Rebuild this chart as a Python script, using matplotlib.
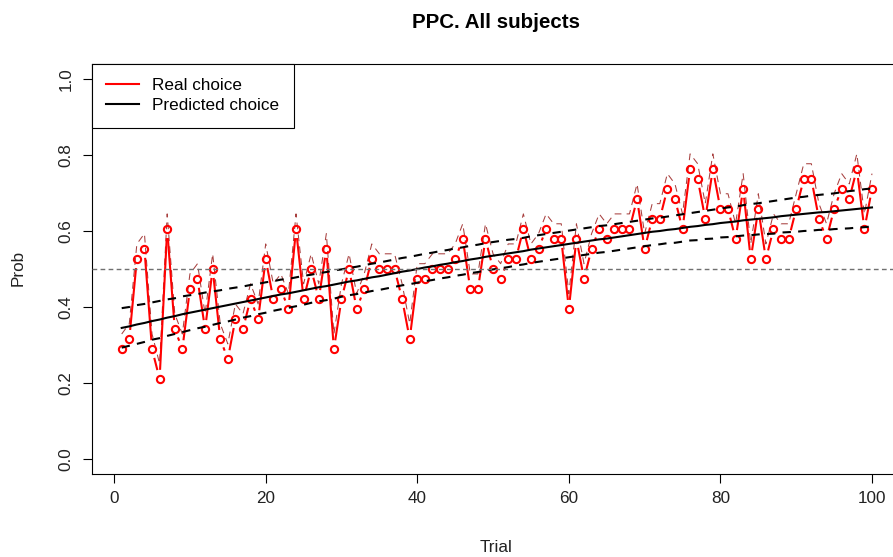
import numpy as np
import matplotlib
matplotlib.use("Agg")
import matplotlib.pyplot as plt
from matplotlib.collections import LineCollection
from matplotlib.lines import Line2D

plt.rcParams['font.family'] = ['Liberation Sans', 'DejaVu Sans']

# ---------------- data ----------------
trials = list(range(1, 101))

real_choice = [
    0.289, 0.316, 0.526, 0.553, 0.289, 0.211, 0.605, 0.342, 0.289, 0.447,
    0.474, 0.342, 0.500, 0.316, 0.263, 0.368, 0.342, 0.421, 0.368, 0.526,
    0.421, 0.447, 0.395, 0.605, 0.421, 0.500, 0.421, 0.553, 0.289, 0.421,
    0.500, 0.395, 0.447, 0.526, 0.500, 0.500, 0.500, 0.421, 0.316, 0.474,
    0.474, 0.500, 0.500, 0.500, 0.526, 0.579, 0.447, 0.447, 0.579, 0.500,
    0.474, 0.526, 0.526, 0.605, 0.526, 0.553, 0.605, 0.579, 0.579, 0.395,
    0.579, 0.474, 0.553, 0.605, 0.579, 0.605, 0.605, 0.605, 0.684, 0.553,
    0.632, 0.632, 0.711, 0.684, 0.605, 0.763, 0.737, 0.632, 0.763, 0.658,
    0.658, 0.579, 0.711, 0.526, 0.658, 0.526, 0.605, 0.579, 0.579, 0.658,
    0.737, 0.737, 0.632, 0.579, 0.658, 0.711, 0.684, 0.763, 0.605, 0.711,
]

real_upper = [
    0.329, 0.356, 0.566, 0.593, 0.329, 0.251, 0.645, 0.382, 0.329, 0.487,
    0.514, 0.382, 0.540, 0.356, 0.303, 0.408, 0.382, 0.461, 0.408, 0.566,
    0.461, 0.487, 0.435, 0.645, 0.461, 0.540, 0.461, 0.593, 0.329, 0.461,
    0.540, 0.435, 0.487, 0.566, 0.540, 0.540, 0.540, 0.461, 0.356, 0.514,
    0.514, 0.540, 0.540, 0.540, 0.566, 0.619, 0.487, 0.487, 0.619, 0.540,
    0.514, 0.566, 0.566, 0.645, 0.566, 0.593, 0.645, 0.619, 0.619, 0.435,
    0.619, 0.514, 0.593, 0.645, 0.619, 0.645, 0.645, 0.645, 0.724, 0.593,
    0.672, 0.672, 0.751, 0.724, 0.645, 0.803, 0.777, 0.672, 0.803, 0.698,
    0.698, 0.619, 0.751, 0.566, 0.698, 0.566, 0.645, 0.619, 0.619, 0.698,
    0.777, 0.777, 0.672, 0.619, 0.698, 0.751, 0.724, 0.803, 0.645, 0.751,
]

predicted = [
    0.345, 0.349, 0.354, 0.358, 0.363, 0.367, 0.372, 0.376, 0.381, 0.385,
    0.389, 0.393, 0.397, 0.401, 0.405, 0.409, 0.413, 0.417, 0.421, 0.425,
    0.429, 0.433, 0.436, 0.440, 0.444, 0.448, 0.452, 0.455, 0.459, 0.463,
    0.467, 0.470, 0.474, 0.478, 0.481, 0.485, 0.489, 0.493, 0.496, 0.500,
    0.504, 0.507, 0.511, 0.514, 0.518, 0.521, 0.525, 0.528, 0.532, 0.535,
    0.538, 0.541, 0.544, 0.547, 0.551, 0.554, 0.557, 0.560, 0.563, 0.566,
    0.569, 0.572, 0.575, 0.578, 0.580, 0.583, 0.586, 0.589, 0.592, 0.595,
    0.598, 0.600, 0.603, 0.605, 0.608, 0.611, 0.613, 0.616, 0.618, 0.621,
    0.623, 0.625, 0.628, 0.630, 0.632, 0.634, 0.636, 0.639, 0.641, 0.643,
    0.645, 0.647, 0.649, 0.650, 0.652, 0.654, 0.656, 0.658, 0.660, 0.662,
]

pred_upper = [
    0.397, 0.400, 0.405, 0.408, 0.412, 0.416, 0.420, 0.423, 0.428, 0.431,
    0.434, 0.438, 0.441, 0.444, 0.448, 0.451, 0.454, 0.458, 0.461, 0.465,
    0.468, 0.472, 0.474, 0.478, 0.482, 0.485, 0.489, 0.492, 0.496, 0.499,
    0.503, 0.506, 0.510, 0.514, 0.517, 0.521, 0.525, 0.529, 0.532, 0.536,
    0.540, 0.543, 0.547, 0.550, 0.554, 0.557, 0.561, 0.564, 0.568, 0.571,
    0.574, 0.577, 0.579, 0.582, 0.586, 0.589, 0.592, 0.595, 0.598, 0.601,
    0.604, 0.607, 0.610, 0.613, 0.615, 0.618, 0.621, 0.624, 0.627, 0.630,
    0.633, 0.635, 0.638, 0.641, 0.644, 0.647, 0.650, 0.653, 0.656, 0.659,
    0.662, 0.664, 0.668, 0.671, 0.673, 0.676, 0.679, 0.682, 0.685, 0.688,
    0.690, 0.693, 0.695, 0.697, 0.699, 0.702, 0.705, 0.707, 0.710, 0.712,
]

pred_lower = [
    0.293, 0.298, 0.303, 0.308, 0.314, 0.318, 0.324, 0.329, 0.334, 0.339,
    0.344, 0.348, 0.353, 0.358, 0.362, 0.367, 0.372, 0.376, 0.381, 0.385,
    0.390, 0.394, 0.398, 0.402, 0.406, 0.411, 0.415, 0.418, 0.422, 0.427,
    0.431, 0.434, 0.438, 0.442, 0.445, 0.449, 0.453, 0.457, 0.460, 0.464,
    0.468, 0.471, 0.475, 0.478, 0.482, 0.485, 0.489, 0.492, 0.496, 0.499,
    0.502, 0.505, 0.509, 0.512, 0.516, 0.519, 0.522, 0.525, 0.528, 0.531,
    0.534, 0.537, 0.540, 0.543, 0.545, 0.548, 0.551, 0.554, 0.557, 0.560,
    0.563, 0.565, 0.568, 0.569, 0.572, 0.575, 0.576, 0.579, 0.580, 0.583,
    0.584, 0.586, 0.588, 0.589, 0.591, 0.592, 0.593, 0.596, 0.597, 0.598,
    0.600, 0.601, 0.603, 0.603, 0.605, 0.606, 0.607, 0.609, 0.610, 0.612,
]

chance_level = 0.5
x_ticks = [0, 20, 40, 60, 80, 100]
y_ticks = [0.0, 0.2, 0.4, 0.6, 0.8, 1.0]
y_tick_labels = ["0.0", "0.2", "0.4", "0.6", "0.8", "1.0"]
legend_labels = ["Real choice", "Predicted choice"]

# ---------------- figure ----------------
W, H = 893, 557
DPI = 100
fig = plt.figure(figsize=(W / DPI, H / DPI), dpi=DPI)

left_px, right_px, top_px, bottom_px = 91.7, 902.0, 63.8, 474.2
ax = fig.add_axes([left_px / W, 1 - bottom_px / H,
                   (right_px - left_px) / W, (bottom_px - top_px) / H])
ax.set_xlim(-2.96, 103.96)
ax.set_ylim(-0.04, 1.04)

FS = 12.3
RED = '#ff0000'
DARKRED = '#a8403f'

# thin dashed envelope of the real choice
ax.plot(trials, real_upper, color=DARKRED, lw=0.75,
        linestyle=(0, (6.5, 5)), zorder=2)

# real choice drawn R "type='b'" style: segments stop short of the points
gap = 9.0
pts = ax.transData.transform(np.column_stack([trials, real_choice]))
segs = []
for p0, p1 in zip(pts[:-1], pts[1:]):
    d = p1 - p0
    L = np.hypot(d[0], d[1])
    if L > 2 * gap:
        u = d / L
        a = ax.transData.inverted().transform(p0 + u * gap)
        b = ax.transData.inverted().transform(p1 - u * gap)
        segs.append([a, b])
ax.add_collection(LineCollection(segs, colors=RED, linewidths=1.5, zorder=3))
ax.plot(trials, real_choice, linestyle='none', marker='o', markersize=5.2,
        markerfacecolor='none', markeredgecolor=RED, markeredgewidth=1.5, zorder=4)

# predicted choice with bounds
ax.plot(trials, predicted, color='black', lw=1.5, zorder=5)
ax.plot(trials, pred_upper, color='black', lw=1.5, linestyle=(0, (4, 3.5)), zorder=5)
ax.plot(trials, pred_lower, color='black', lw=1.5, linestyle=(0, (4, 3.5)), zorder=5)

# chance line
ax.axhline(chance_level, color='#707070', lw=1.0, linestyle=(0, (3.4, 2.4)), zorder=6)

# axes styling
for s in ax.spines.values():
    s.set_linewidth(0.8)
    s.set_color('black')
ax.set_xticks(x_ticks)
ax.set_xticklabels([str(t) for t in x_ticks])
ax.set_yticks(y_ticks)
ax.set_yticklabels(y_tick_labels, rotation=90, va='center')
ax.tick_params(axis='both', direction='out', length=6.5, width=0.8,
               labelsize=FS, colors='black', labelcolor='#222222')
ax.tick_params(axis='x', pad=5.5)
ax.tick_params(axis='y', pad=6.5)

# labels and title
fig.text(496 / W, 1 - 22 / H, "PPC. All subjects", ha='center', va='center',
         fontsize=14.8, fontweight='bold')
fig.text(496 / W, 1 - 548 / H, "Trial", ha='center', va='center', fontsize=FS,
         color='#222222')
fig.text(18 / W, 1 - 268 / H, "Prob", ha='center', va='center', fontsize=FS,
         rotation=90, color='#222222')

handles = [Line2D([], [], color=RED, lw=1.5), Line2D([], [], color='black', lw=1.5)]
leg = ax.legend(handles, legend_labels, loc='upper left', borderaxespad=0,
                fontsize=FS, frameon=True, fancybox=False, framealpha=1,
                edgecolor='black', borderpad=0.85, labelspacing=0.3,
                handlelength=1.9, handletextpad=0.8)
leg.get_frame().set_linewidth(0.8)
leg.set_zorder(10)

fig.savefig("out.png", dpi=DPI, facecolor='white')
